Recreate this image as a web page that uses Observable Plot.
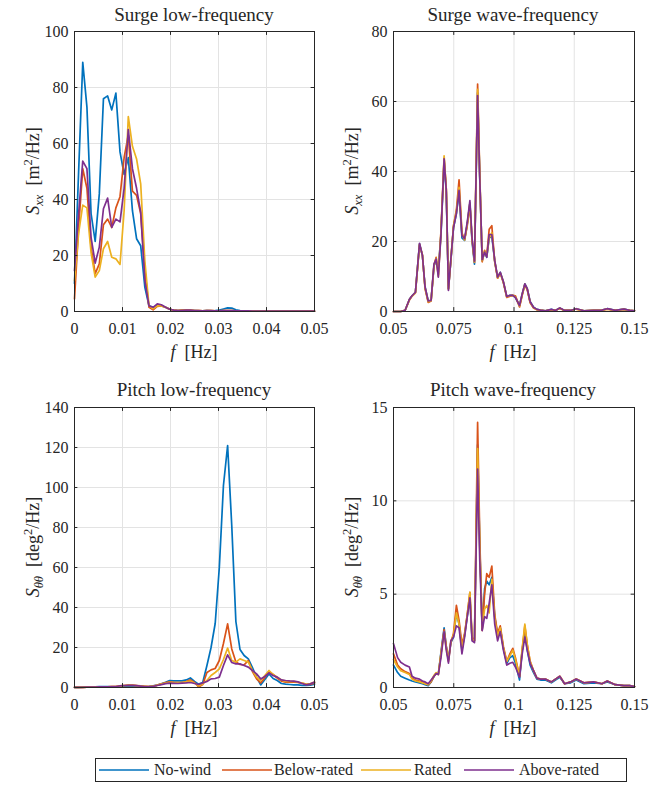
<!DOCTYPE html>
<html>
<head>
<meta charset="utf-8">
<script src="https://cdn.jsdelivr.net/npm/d3@7"></script>
<script src="https://cdn.jsdelivr.net/npm/@observablehq/plot@0.6"></script>
<style>
  html, body { margin: 0; padding: 0; background: #fff; }
  #wrap { position: relative; width: 650px; height: 785px; background: #fff; font-family: "Liberation Serif", "Times New Roman", Times, "DejaVu Serif", serif; color: #262626; overflow: hidden; }
  .panel { position: absolute; }
  .title { position: absolute; transform: translate(-50%, -50%); font-size: 19px; white-space: nowrap; }
  .xlab { position: absolute; transform: translate(-50%, -50%); font-size: 18px; white-space: nowrap; }
  .ylab { position: absolute; transform: translate(-50%, -50%) rotate(-90deg); font-size: 18px; white-space: nowrap; }
  sub, sup { font-size: 70%; line-height: 0; }
  #legend { position: absolute; left: 95px; top: 758px; width: 532px; height: 24px; border: 1px solid #262626; box-sizing: border-box; font-size: 16px; }
  .lg { position: absolute; top: 50%; transform: translateY(-50%); white-space: nowrap; }
</style>
</head>
<body>
<div id="wrap"></div>
<script>
// ---------------- data ----------------
const seriesNames = ["No-wind", "Below-rated", "Rated", "Above-rated"];
const seriesColors = ["#0072BD", "#D95319", "#EDB120", "#7E2F8E"];

// low-frequency grid [Hz]
const fLF = [0, 0.00086, 0.00172, 0.00259, 0.00345, 0.00431, 0.00517, 0.00603, 0.0069, 0.00776, 0.00862, 0.00948, 0.01034, 0.01121, 0.01207, 0.01293, 0.01379, 0.01466, 0.01552, 0.01638, 0.01724, 0.0181, 0.01897, 0.01983, 0.02069, 0.02155, 0.02241, 0.02328, 0.02414, 0.025, 0.02586, 0.02672, 0.02759, 0.02845, 0.02931, 0.03017, 0.03103, 0.0319, 0.03276, 0.03362, 0.03448, 0.03534, 0.03621, 0.03707, 0.03793, 0.03879, 0.03966, 0.04052, 0.04138, 0.04224, 0.0431, 0.04397, 0.04483, 0.04569, 0.04655, 0.04741, 0.04828, 0.04914, 0.05];

// wave-frequency grid [Hz]
const fWF = [0.0500, 0.0517, 0.0530, 0.0548, 0.0566, 0.0577, 0.0591, 0.0608, 0.0620, 0.0631, 0.0644, 0.0656, 0.0668, 0.0677, 0.0686, 0.0697, 0.0710, 0.0719, 0.0728, 0.0738, 0.0749, 0.0761, 0.0772, 0.0784, 0.0795, 0.0806, 0.0817, 0.0826, 0.0836, 0.0849, 0.0858, 0.0868, 0.0878, 0.0887, 0.0897, 0.0908, 0.0920, 0.0932, 0.0943, 0.0956, 0.0970, 0.0983, 0.0995, 0.1006, 0.1023, 0.1034, 0.1045, 0.1055, 0.1067, 0.1081, 0.1095, 0.1110, 0.1130, 0.1155, 0.1172, 0.1190, 0.1210, 0.1235, 0.1258, 0.1290, 0.1330, 0.1365, 0.1387, 0.1420, 0.1456, 0.1480, 0.1500];

// Surge low-frequency S_xx [m^2/Hz]
const surgeLF_noWind = [10, 50, 89, 73, 35, 25, 42, 76, 77, 72, 78, 57, 49, 55, 36, 26, 23.5, 8.6, 2, 1.5, 2.1, 2.1, 1.5, 0.8, 0.4, 0.3, 0.3, 0.2, 0.3, 0.3, 0.2, 0.2, 0.3, 0.2, 0.3, 0.5, 0.9, 1.3, 1.2, 0.6, 0.3, 0.2, 0.2, 0.1, 0.1, 0.1, 0.1, 0.1, 0.1, 0.1, 0.1, 0.1, 0.1, 0.1, 0.1, 0.1, 0.1, 0.1, 0.1];
const surgeLF_below = [4.5, 30, 51, 44, 23, 13.5, 17, 31, 33, 30, 37, 41, 55, 63, 43, 41.5, 35, 14.6, 1.5, 0.6, 1.8, 2, 1.5, 0.8, 0.5, 0.3, 0.5, 0.6, 0.5, 0.3, 0.3, 0.2, 0.3, 0.3, 0.2, 0.2, 0.3, 0.3, 0.3, 0.2, 0.2, 0.2, 0.2, 0.1, 0.1, 0.1, 0.1, 0.1, 0.1, 0.1, 0.1, 0.1, 0.1, 0.1, 0.1, 0.1, 0.1, 0.1, 0.1];
const surgeLF_rated = [11, 28, 38, 37, 21, 12.3, 14.6, 22.4, 25, 19.4, 18.8, 16.8, 36, 69.6, 59, 54.5, 45.6, 18, 2, 1, 2, 2, 1.5, 0.8, 0.5, 0.3, 0.5, 0.5, 0.5, 0.3, 0.3, 0.2, 0.3, 0.3, 0.2, 0.2, 0.3, 0.3, 0.3, 0.2, 0.2, 0.2, 0.2, 0.1, 0.1, 0.1, 0.1, 0.1, 0.1, 0.1, 0.1, 0.1, 0.1, 0.1, 0.1, 0.1, 0.1, 0.1, 0.1];
const surgeLF_above = [14.6, 35, 53.7, 51, 26.5, 17.3, 23, 36.7, 40.5, 30, 33, 32, 44, 65, 51, 44, 35.5, 11, 2, 1.5, 2.7, 2.4, 1.5, 0.8, 0.5, 0.3, 0.4, 0.5, 0.5, 0.3, 0.3, 0.2, 0.3, 0.3, 0.2, 0.2, 0.3, 0.3, 0.3, 0.2, 0.2, 0.2, 0.2, 0.1, 0.1, 0.1, 0.1, 0.1, 0.1, 0.1, 0.1, 0.1, 0.1, 0.1, 0.1, 0.1, 0.1, 0.1, 0.1];

// Surge wave-frequency S_xx [m^2/Hz]
const surgeWF_noWind = [0, 0, 0, 0.3, 3.4, 4.5, 5.5, 19.3, 16, 7, 3, 3.2, 13, 14.5, 12, 22, 43, 34, 6.5, 14.5, 24, 28, 34, 21, 20.3, 25, 31, 20, 13.5, 62.5, 38, 14.6, 17, 15.5, 21, 21.5, 14.4, 9.7, 11.2, 8.4, 4.3, 4.6, 4.6, 4, 1.7, 5, 7.9, 6.5, 2.8, 1.2, 0.6, 0.4, 0.2, 0.6, 0.3, 1.0, 0.3, 0.3, 0.8, 0.2, 0.3, 0.4, 0.8, 0.3, 0.7, 0.3, 0.2];
const surgeWF_below = [0, 0, 0, 0.3, 3.3, 4.4, 5.3, 19, 16.2, 6.5, 2.6, 3, 13, 15.5, 10.5, 23, 43.8, 35, 6.5, 14.5, 24.5, 29, 37.6, 22.5, 20.5, 24.5, 30.5, 20.5, 14, 65, 39, 14.2, 17.5, 16, 23.5, 24.5, 14.2, 9.5, 11, 8.2, 4, 4.4, 4.6, 4.5, 1.3, 4.6, 7.6, 6.2, 2.5, 1.0, 0.5, 0.3, 0.2, 0.5, 0.3, 0.9, 0.3, 0.3, 0.7, 0.2, 0.3, 0.4, 0.7, 0.3, 0.6, 0.3, 0.2];
const surgeWF_rated = [0, 0, 0, 0.3, 3.4, 4.4, 5.4, 19.2, 16, 6.8, 2.8, 3.1, 13.3, 15.2, 10, 22.5, 44.5, 35, 6.3, 14.8, 24.5, 28.5, 35.5, 22, 20.5, 25, 31, 20.8, 14.2, 63.5, 38.5, 14.5, 17.2, 15.8, 21, 22.5, 14.4, 9.6, 11.1, 8.4, 4.2, 4.5, 4.6, 4.2, 1.5, 4.8, 7.8, 6.4, 2.6, 1.1, 0.5, 0.4, 0.2, 0.5, 0.3, 0.9, 0.3, 0.3, 0.7, 0.2, 0.3, 0.4, 0.7, 0.3, 0.6, 0.3, 0.2];
const surgeWF_above = [0, 0, 0, 0.3, 3.5, 4.5, 5.5, 19.5, 16, 7, 3, 3.2, 13.6, 15, 9.8, 22, 43.6, 34.6, 6, 15, 24, 28, 34.6, 21.7, 20.8, 25.5, 31.7, 21, 14.4, 61.7, 38, 14.8, 17, 15.5, 22, 22, 14.6, 9.8, 11.2, 8.5, 4.3, 4.6, 4.6, 4, 1.7, 5, 7.9, 6.5, 2.8, 1.2, 0.6, 0.4, 0.2, 0.6, 0.3, 1.0, 0.3, 0.3, 0.8, 0.2, 0.3, 0.4, 0.8, 0.3, 0.7, 0.3, 0.2];

// Pitch low-frequency S_thth [deg^2/Hz]
const pitchLF_noWind = [0.1, 0.1, 0.2, 0.2, 0.3, 0.3, 0.4, 0.5, 0.4, 0.3, 0.2, 0.3, 0.5, 0.6, 0.6, 0.5, 0.5, 0.3, 0.4, 0.8, 1.2, 1.8, 2.6, 3.5, 3.3, 3.3, 3.3, 3.8, 4.8, 3.0, 1.7, 2.5, 11, 20, 32, 60, 101, 121, 81, 33, 19, 16, 14.3, 10, 5.2, 1.3, 4, 6.8, 4.5, 3.5, 2, 1.7, 1.5, 1.3, 1.3, 1.1, 1, 1.2, 1.7];
const pitchLF_below = [0.1, 0.1, 0.1, 0.2, 0.2, 0.2, 0.3, 0.3, 0.3, 0.4, 0.5, 0.8, 1.0, 1.2, 1.2, 1.0, 0.8, 0.6, 0.4, 0.7, 1.2, 1.8, 2.4, 2.8, 2.6, 2.5, 2.5, 3.0, 3.8, 2.5, 0.3, 1.5, 7.5, 8.8, 9.5, 13.5, 22, 31.8, 19.3, 12.7, 11.5, 11.3, 13.5, 8, 4.3, 2.3, 5, 8, 6.5, 4.7, 3.2, 2.7, 2.7, 2.7, 2.5, 2.2, 1.6, 1.5, 2.3];
const pitchLF_rated = [0.1, 0.1, 0.1, 0.2, 0.2, 0.2, 0.3, 0.3, 0.3, 0.4, 0.5, 0.8, 1.0, 1.1, 1.1, 0.9, 0.8, 0.6, 0.4, 0.7, 1.1, 1.7, 2.2, 2.6, 2.5, 2.4, 2.4, 2.8, 3.2, 2.2, 0.8, 1.8, 3.5, 6, 7.5, 9.3, 14, 19.7, 13.5, 12.7, 14.3, 13.5, 12.7, 8.5, 5.2, 3.5, 6, 8.5, 6.5, 5.2, 3.8, 3, 3, 3, 2.7, 2.2, 1.7, 2, 2.7];
const pitchLF_above = [0.1, 0.1, 0.1, 0.2, 0.2, 0.2, 0.3, 0.3, 0.3, 0.4, 0.5, 0.8, 1.0, 1.1, 1.1, 0.9, 0.7, 0.5, 0.4, 0.6, 1.0, 1.4, 1.9, 2.2, 2.1, 2.0, 2.2, 2.3, 2.5, 2.0, 1.5, 2.3, 3, 4.3, 4.5, 5.2, 11, 16.3, 12.5, 11.8, 11.8, 11, 10.2, 8.5, 6.8, 4.3, 5.5, 7.3, 6, 5.2, 3.8, 3.5, 3.3, 3.2, 2.8, 2, 1.3, 1.8, 2.7];

// Pitch wave-frequency S_thth [deg^2/Hz]
const pitchWF_noWind = [1.2, 0.8, 0.6, 0.5, 0.4, 0.35, 0.3, 0.25, 0.2, 0.15, 0.1, 0.3, 0.6, 0.75, 0.7, 1.9, 3.2, 2.2, 1.5, 2.4, 2.7, 4.0, 3.4, 2.0, 2.8, 3.8, 4.9, 2.6, 2.5, 13.0, 7.6, 3.1, 5.3, 5.7, 5.5, 5.9, 3.8, 2.8, 3.2, 2.1, 1.3, 1.6, 1.7, 1.3, 0.4, 2.0, 3.0, 2.0, 1.2, 0.8, 0.45, 0.4, 0.4, 0.25, 0.4, 0.55, 0.2, 0.25, 0.4, 0.2, 0.25, 0.2, 0.3, 0.15, 0.1, 0.1, 0.05];
const pitchWF_below = [1.8, 1.2, 1.0, 0.85, 0.75, 0.5, 0.4, 0.35, 0.3, 0.2, 0.15, 0.3, 0.6, 0.75, 0.7, 1.8, 3.1, 2.2, 1.4, 2.4, 2.9, 4.4, 3.6, 2.3, 2.9, 3.9, 5.1, 2.7, 2.5, 14.2, 8, 3.05, 5.0, 6.1, 5.9, 6.5, 3.9, 2.9, 3.3, 2.2, 1.4, 1.8, 2.1, 1.6, 0.6, 2.0, 3.3, 2.3, 1.4, 0.9, 0.5, 0.45, 0.45, 0.3, 0.45, 0.6, 0.2, 0.3, 0.45, 0.25, 0.3, 0.2, 0.35, 0.15, 0.1, 0.1, 0.05];
const pitchWF_rated = [1.5, 1.1, 0.9, 0.8, 0.7, 0.45, 0.35, 0.3, 0.25, 0.2, 0.15, 0.35, 0.65, 0.8, 0.7, 1.8, 3.0, 2.1, 1.5, 2.5, 2.8, 4.0, 3.4, 2.1, 2.8, 3.9, 5.1, 2.6, 2.5, 12.8, 7.4, 3.2, 4.2, 4.4, 4.0, 5.8, 3.7, 2.7, 3.2, 2.1, 1.4, 1.7, 2.0, 1.5, 0.6, 2.1, 3.4, 2.3, 1.4, 0.9, 0.5, 0.45, 0.45, 0.3, 0.45, 0.6, 0.2, 0.3, 0.45, 0.25, 0.3, 0.2, 0.35, 0.15, 0.1, 0.1, 0.05];
const pitchWF_above = [2.35, 1.6, 1.35, 1.2, 1.1, 0.6, 0.5, 0.45, 0.35, 0.3, 0.2, 0.4, 0.6, 0.75, 0.7, 1.6, 3.0, 2.0, 1.3, 2.5, 2.7, 3.3, 3.2, 1.8, 2.7, 3.8, 4.8, 2.5, 2.4, 11.7, 6.8, 3.05, 3.8, 3.7, 4.5, 5.5, 3.4, 2.5, 3.0, 2.0, 1.2, 1.3, 1.35, 1.1, 0.55, 1.8, 2.7, 2.0, 1.3, 0.9, 0.5, 0.45, 0.45, 0.3, 0.45, 0.6, 0.2, 0.3, 0.45, 0.25, 0.3, 0.2, 0.35, 0.15, 0.1, 0.1, 0.05];

// ticks
const xTicksLF = [0, 0.01, 0.02, 0.03, 0.04, 0.05];
const xTickLabelsLF = ["0", "0.01", "0.02", "0.03", "0.04", "0.05"];
const xTicksWF = [0.05, 0.075, 0.1, 0.125, 0.15];
const xTickLabelsWF = ["0.05", "0.075", "0.1", "0.125", "0.15"];
const yTicksSurgeLF = [0, 20, 40, 60, 80, 100];
const yTicksSurgeWF = [0, 20, 40, 60, 80];
const yTicksPitchLF = [0, 20, 40, 60, 80, 100, 120, 140];
const yTicksPitchWF = [0, 5, 10, 15];

const titles = ["Surge low-frequency", "Surge wave-frequency", "Pitch low-frequency", "Pitch wave-frequency"];

// ---------------- drawing ----------------
const wrap = document.getElementById("wrap");
const axisColor = "#262626";
const gridColor = "#e3e3e3";
const serifStack = "'Liberation Serif', 'Times New Roman', Times, 'DejaVu Serif', serif";

function makePanel(cfg) {
  const {left, top, width, height, margin, f, series, xDomain, xTicks, xLabels, yDomain, yTicks} = cfg;
  const xs = xDomain[1] - xDomain[0];
  const ys = yDomain[1] - yDomain[0];
  const tl = 0.014;
  const lineMarks = series.map((vals, k) =>
    Plot.line(f.map((x, i) => ({f: x, v: vals[i]})), {x: "f", y: "v", stroke: seriesColors[k], strokeWidth: 1.7, strokeLinejoin: "round"})
  );
  const svg = Plot.plot({
    width, height,
    marginLeft: margin[3], marginRight: margin[1], marginTop: margin[0], marginBottom: margin[2],
    x: {domain: xDomain},
    y: {domain: yDomain},
    style: {"font-family": serifStack, "font-size": "16px", color: axisColor, background: "transparent", overflow: "visible"},
    marks: [
      Plot.gridX({ticks: xTicks, stroke: gridColor, strokeOpacity: 1}),
      Plot.gridY({ticks: yTicks, stroke: gridColor, strokeOpacity: 1}),
      Plot.axisX({ticks: xTicks, tickSize: 0, tickPadding: 11, label: null, tickFormat: d => xLabels[xTicks.indexOf(d)], fill: axisColor, fontFamily: serifStack, fontSize: 16, fontVariant: "normal"}),
      Plot.axisY({ticks: yTicks, tickSize: 0, tickPadding: 6, label: null, tickFormat: d => String(d), fill: axisColor, fontFamily: serifStack, fontSize: 16, fontVariant: "normal"}),
      ...lineMarks,
      Plot.ruleY(yTicks, {y: d => d, x1: xDomain[0], x2: xDomain[0] + xs * tl, stroke: axisColor}),
      Plot.ruleY(yTicks, {y: d => d, x1: xDomain[1] - xs * tl, x2: xDomain[1], stroke: axisColor}),
      Plot.ruleX(xTicks, {x: d => d, y1: yDomain[0], y2: yDomain[0] + ys * tl, stroke: axisColor}),
      Plot.ruleX(xTicks, {x: d => d, y1: yDomain[1] - ys * tl, y2: yDomain[1], stroke: axisColor}),
      Plot.frame({stroke: axisColor, strokeWidth: 1})
    ]
  });
  // force the serif face on every text node the axes produced
  svg.setAttribute("font-family", serifStack);
  svg.querySelectorAll("g, text, tspan").forEach(el => {
    if (el.hasAttribute("font-family")) el.setAttribute("font-family", serifStack);
  });
  svg.querySelectorAll("text, tspan").forEach(el => {
    el.setAttribute("font-family", serifStack);
    el.style.setProperty("font-family", serifStack, "important");
    el.style.setProperty("font-variant", "normal", "important");
  });
  const div = document.createElement("div");
  div.className = "panel";
  div.style.left = left + "px";
  div.style.top = top + "px";
  div.appendChild(svg);
  wrap.appendChild(div);
}

const surgeLabel = '<i>S</i><sub><i>xx</i></sub>&nbsp;&nbsp;[m<sup>2</sup>/Hz]';
const pitchLabel = '<i>S</i><sub><i>θθ</i></sub>&nbsp;&nbsp;[deg<sup>2</sup>/Hz]';
const fLabel = '<i>f</i>&nbsp;&nbsp;[Hz]';

const panels = [
  {left: 0, top: 0, width: 325, height: 370, margin: [31, 11, 59, 74], f: fLF,
   series: [surgeLF_noWind, surgeLF_below, surgeLF_rated, surgeLF_above],
   xDomain: [0, 0.05], xTicks: xTicksLF, xLabels: xTickLabelsLF, yDomain: [0, 100], yTicks: yTicksSurgeLF,
   title: titles[0], ylab: surgeLabel, ylabX: 33, cx: 194, ty: 15, xly: 352, yly: 171},
  {left: 325, top: 0, width: 325, height: 370, margin: [31, 16, 59, 68], f: fWF,
   series: [surgeWF_noWind, surgeWF_below, surgeWF_rated, surgeWF_above],
   xDomain: [0.05, 0.15], xTicks: xTicksWF, xLabels: xTickLabelsWF, yDomain: [0, 80], yTicks: yTicksSurgeWF,
   title: titles[1], ylab: surgeLabel, ylabX: 352, cx: 513, ty: 15, xly: 352, yly: 171},
  {left: 0, top: 375, width: 325, height: 370, margin: [32, 11, 58, 74], f: fLF,
   series: [pitchLF_noWind, pitchLF_below, pitchLF_rated, pitchLF_above],
   xDomain: [0, 0.05], xTicks: xTicksLF, xLabels: xTickLabelsLF, yDomain: [0, 140], yTicks: yTicksPitchLF,
   title: titles[2], ylab: pitchLabel, ylabX: 33, cx: 194, ty: 390, xly: 728, yly: 547},
  {left: 325, top: 375, width: 325, height: 370, margin: [32, 16, 58, 68], f: fWF,
   series: [pitchWF_noWind, pitchWF_below, pitchWF_rated, pitchWF_above],
   xDomain: [0.05, 0.15], xTicks: xTicksWF, xLabels: xTickLabelsWF, yDomain: [0, 15], yTicks: yTicksPitchWF,
   title: titles[3], ylab: pitchLabel, ylabX: 352, cx: 513, ty: 390, xly: 728, yly: 547}
];

for (const p of panels) {
  makePanel(p);
  const t = document.createElement("div");
  t.className = "title"; t.textContent = p.title;
  t.style.left = p.cx + "px"; t.style.top = p.ty + "px";
  wrap.appendChild(t);
  const xl = document.createElement("div");
  xl.className = "xlab"; xl.innerHTML = fLabel;
  xl.style.left = p.cx + "px"; xl.style.top = p.xly + "px";
  wrap.appendChild(xl);
  const yl = document.createElement("div");
  yl.className = "ylab"; yl.innerHTML = p.ylab;
  yl.style.left = p.ylabX + "px"; yl.style.top = p.yly + "px";
  wrap.appendChild(yl);
}

// legend
const legend = document.createElement("div");
legend.id = "legend";
const lineX = [3, 126, 265, 368];
const textX = [58, 178, 318, 423];
seriesNames.forEach((name, k) => {
  const sw = document.createElement("div");
  sw.className = "lg";
  sw.style.left = lineX[k] + "px";
  sw.innerHTML = `<svg width="50" height="4" style="display:block"><line x1="0" x2="50" y1="2" y2="2" stroke="${seriesColors[k]}" stroke-width="1.7"/></svg>`;
  legend.appendChild(sw);
  const tx = document.createElement("div");
  tx.className = "lg";
  tx.style.left = textX[k] + "px";
  tx.textContent = name;
  legend.appendChild(tx);
});
wrap.appendChild(legend);
</script>
</body>
</html>
